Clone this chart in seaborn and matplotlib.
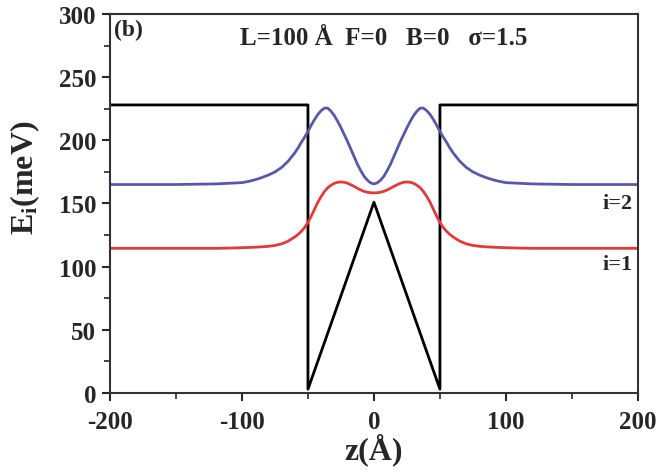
import matplotlib
matplotlib.use("Agg")
import matplotlib.pyplot as plt
import seaborn as sns
import pandas as pd
from matplotlib.ticker import MultipleLocator

# ---- data ----
z_pot = [-200, -50, -50, 0, 50, 50, 200]
V_pot = [228, 228, 3, 151, 3, 228, 228]

z_lvl = [-200, -150, -120, -110, -100, -95, -90, -85, -80, -75, -70, -65,
         -60, -57.5, -55, -52.5, -50, -47.5, -45, -42.5, -40, -37.5, -35, -32.5,
         -30, -27.5, -25, -22.5, -20, -17.5, -15, -12.5, -10, -7.5, -5, -2.5, 0,
         2.5, 5, 7.5, 10, 12.5, 15, 17.5, 20, 22.5, 25, 27.5, 30,
         32.5, 35, 37.5, 40, 42.5, 45, 47.5, 50, 52.5, 55, 57.5, 60,
         65, 70, 75, 80, 85, 90, 95, 100, 110, 120, 150, 200]
E_i2 = [165, 165, 165.5, 166, 166.5, 167.5, 168.8, 170.5, 172.5, 175, 178.5, 183.5,
        190, 194, 198.5, 202.5, 207, 212, 216.5, 220.5, 223.5, 225.5, 225.5, 223,
        219.5, 215, 210, 204.5, 199, 193, 187, 181, 176, 171.5, 168.5, 166.3, 165.5,
        166.3, 168.5, 171.5, 176, 181, 187, 193, 199, 204.5, 210, 215, 219.5,
        223, 225.5, 225.5, 223.5, 220.5, 216.5, 212, 207, 202.5, 198.5, 194, 190,
        183.5, 178.5, 175, 172.5, 170.5, 168.8, 167.5, 166.5, 166, 165.5, 165, 165]
E_i1 = [114.5, 114.5, 114.5, 114.7, 115, 115.2, 115.4, 115.7, 116.1, 116.8, 118, 120.2,
        123.5, 125.5, 128, 131, 135, 140, 145.5, 151, 155.5, 159.5, 162.5, 164.5,
        166, 166.8, 167, 166.8, 166, 164.8, 163.5, 162, 160.7, 159.6, 158.9, 158.5, 158.4,
        158.5, 158.9, 159.6, 160.7, 162, 163.5, 164.8, 166, 166.8, 167, 166.8, 166,
        164.5, 162.5, 159.5, 155.5, 151, 145.5, 140, 135, 131, 128, 125.5, 123.5,
        120.2, 118, 116.8, 116.1, 115.7, 115.4, 115.2, 115, 114.7, 114.5, 114.5, 114.5]

x_ticks = [-200, -100, 0, 100, 200]
y_ticks = [0, 50, 100, 150, 200, 250, 300]
annotation = "L=100 Å  F=0   B=0   σ=1.5"

pot = pd.DataFrame({"z": z_pot, "E": V_pot})
lv = pd.DataFrame({"z": z_lvl, "i2": E_i2, "i1": E_i1})

sns.set_style("ticks")
plt.rcParams['font.family'] = ['Liberation Serif', 'DejaVu Serif']
plt.rcParams['font.weight'] = 'bold'
plt.rcParams['axes.unicode_minus'] = False
plt.rcParams['mathtext.fontset'] = 'custom'
plt.rcParams['mathtext.rm'] = 'Liberation Serif:bold'
plt.rcParams['mathtext.it'] = 'Liberation Serif:bold'
plt.rcParams['mathtext.default'] = 'rm'

fig = plt.figure(figsize=(6.59, 4.77), dpi=100)
ax = fig.add_axes([0.1669, 0.174, 0.8011, 0.7946])

sns.lineplot(data=pot, x="z", y="E", ax=ax, color="black", lw=2.0,
             sort=False, estimator=None)
sns.lineplot(data=lv, x="z", y="i2", ax=ax, color="#5858a8", lw=2.0,
             sort=False, estimator=None)
sns.lineplot(data=lv, x="z", y="i1", ax=ax, color="#e23a3a", lw=2.0,
             sort=False, estimator=None)

ax.set_xlim(-200, 200)
ax.set_ylim(0, 300)
ax.set_xticks(x_ticks)
ax.set_yticks(y_ticks)
ax.xaxis.set_minor_locator(MultipleLocator(50))
ax.yaxis.set_minor_locator(MultipleLocator(25))
ax.tick_params(axis='both', which='major', direction='out', length=6, width=1.5,
               labelsize=18)
ax.tick_params(axis='x', which='major', pad=6)
ax.tick_params(axis='y', which='major', pad=4)
ax.tick_params(axis='both', which='minor', direction='out', length=4, width=1.2)
for lab in ax.get_xticklabels() + ax.get_yticklabels():
    lab.set_fontweight('bold')
for s in ax.spines.values():
    s.set_linewidth(1.5)
    s.set_color("#333333")

ax.set_xlabel("z(Å)", fontsize=23, fontweight='bold', labelpad=0)
ax.set_ylabel("E$_\\mathregular{i}$(meV)", fontsize=23, fontweight='bold', labelpad=6)
ax.yaxis.set_label_coords(-0.128, 0.57)

ax.text(0.008, 0.96, "(b)", transform=ax.transAxes, fontsize=17,
        fontweight='bold', ha='left', va='center')
ax.text(0.518, 0.937, annotation, transform=ax.transAxes, fontsize=18,
        fontweight='bold', ha='center', va='center')
ax.text(0.99, 0.50, "i=2", transform=ax.transAxes, fontsize=16,
        fontweight='bold', ha='right', va='center')
ax.text(0.99, 0.34, "i=1", transform=ax.transAxes, fontsize=16,
        fontweight='bold', ha='right', va='center')

fig.savefig("out.png", dpi=100, facecolor="white")
